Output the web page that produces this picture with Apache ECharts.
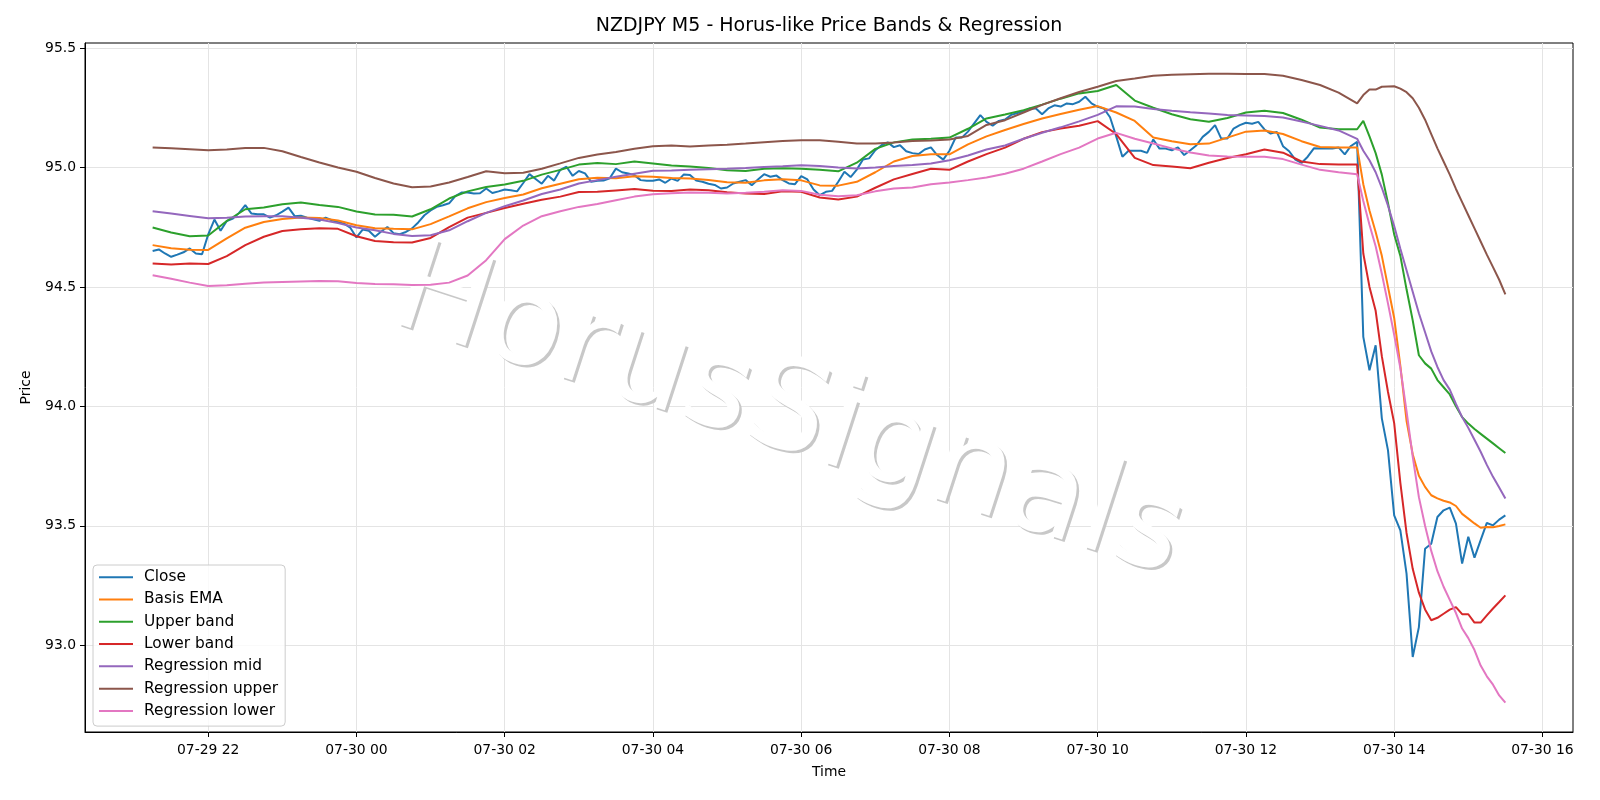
<!DOCTYPE html>
<html>
<head>
<meta charset="utf-8">
<title>NZDJPY M5 - Horus-like Price Bands & Regression</title>
<script src="https://cdn.jsdelivr.net/npm/echarts@6/dist/echarts.min.js"></script>
<style>
  html, body { margin: 0; padding: 0; background: #fff; }
  #chart { width: 1600px; height: 800px; }
</style>
</head>
<body>
<div id="chart"></div>
<script>
// 5 minute bars from 07-29 21:15 to 07-30 15:30
const startTime = new Date(2025, 6, 29, 21, 15).getTime()
const barMs = 5 * 60 * 1000

const closePrices = [
    94.650, 94.657, 94.640, 94.626, 94.635, 94.645, 94.661, 94.640, 94.637, 94.720, 94.782, 94.735,
    94.776, 94.786, 94.810, 94.842, 94.807, 94.804, 94.804, 94.790, 94.800, 94.815, 94.832, 94.796,
    94.798, 94.790, 94.783, 94.777, 94.790, 94.779, 94.772, 94.765, 94.748, 94.707, 94.740, 94.735,
    94.710, 94.732, 94.751, 94.725, 94.721, 94.730, 94.745, 94.770, 94.800, 94.820, 94.835, 94.842,
    94.850, 94.880, 94.895, 94.895, 94.891, 94.892, 94.912, 94.893, 94.900, 94.908, 94.905, 94.900,
    94.935, 94.972, 94.952, 94.932, 94.965, 94.945, 94.990, 95.003, 94.965, 94.985, 94.975, 94.940,
    94.944, 94.945, 94.955, 94.995, 94.980, 94.975, 94.968, 94.947, 94.944, 94.944, 94.950, 94.936,
    94.954, 94.944, 94.971, 94.968, 94.945, 94.940, 94.932, 94.927, 94.912, 94.916, 94.933, 94.940,
    94.947, 94.926, 94.950, 94.972, 94.961, 94.966, 94.947, 94.933, 94.930, 94.964, 94.950, 94.908,
    94.884, 94.898, 94.902, 94.940, 94.982, 94.960, 94.991, 95.033, 95.038, 95.072, 95.093, 95.105,
    95.085, 95.093, 95.068, 95.060, 95.056, 95.075, 95.084, 95.052, 95.033, 95.070, 95.125, 95.125,
    95.150, 95.185, 95.219, 95.191, 95.175, 95.195, 95.201, 95.220, 95.228, 95.235, 95.247, 95.247,
    95.223, 95.247, 95.260, 95.255, 95.268, 95.265, 95.275, 95.296, 95.268, 95.254, 95.247, 95.210,
    95.130, 95.045, 95.070, 95.070, 95.070, 95.061, 95.117, 95.079, 95.079, 95.072, 95.084, 95.052,
    95.072, 95.093, 95.128, 95.149, 95.177, 95.121, 95.121, 95.163, 95.177, 95.187, 95.183, 95.191,
    95.159, 95.142, 95.149, 95.089, 95.068, 95.033, 95.019, 95.045, 95.080, 95.079, 95.079, 95.079,
    95.084, 95.055, 95.090, 95.107, 94.291, 94.151, 94.256, 93.950, 93.816, 93.544, 93.481, 93.300,
    92.951, 93.076, 93.404, 93.425, 93.537, 93.565, 93.576, 93.509, 93.342, 93.454, 93.367, 93.440,
    93.512, 93.502, 93.526, 93.544
]
const closeBars = closePrices.map((v, i) => i)

// the smooth lines were read every 3rd bar up to 13:30, then every bar through the sell-off
const bandBars = []
for (let i = 0; i <= 195; i += 3) bandBars.push(i)
for (let i = 196; i <= 219; i++) bandBars.push(i)

const basisEma = [
    94.675, 94.662, 94.656, 94.655, 94.703, 94.748, 94.772, 94.784, 94.791, 94.789, 94.778, 94.758,
    94.746, 94.743, 94.741, 94.763, 94.795, 94.829, 94.855, 94.872, 94.887, 94.913, 94.932, 94.951,
    94.957, 94.955, 94.963, 94.961, 94.956, 94.954, 94.948, 94.938, 94.936, 94.946, 94.951, 94.946,
    94.925, 94.924, 94.940, 94.980, 95.025, 95.048, 95.055, 95.055, 95.097, 95.130, 95.157, 95.182,
    95.205, 95.224, 95.242, 95.257, 95.230, 95.195, 95.125, 95.110, 95.097, 95.100, 95.125, 95.150,
    95.155, 95.140, 95.110, 95.086, 95.084, 95.084,
    94.93, 94.82, 94.73, 94.63, 94.50, 94.37, 94.17, 93.94, 93.80, 93.71, 93.663, 93.628,
    93.615, 93.605, 93.598, 93.583, 93.55, 93.53, 93.51, 93.492, 93.495, 93.494, 93.499, 93.506
]
const upperBand = [
    94.749, 94.728, 94.712, 94.715, 94.776, 94.825, 94.832, 94.846, 94.853, 94.843, 94.835, 94.816,
    94.803, 94.802, 94.795, 94.825, 94.870, 94.900, 94.918, 94.929, 94.944, 94.970, 94.990, 95.012,
    95.019, 95.014, 95.025, 95.017, 95.008, 95.004, 94.998, 94.988, 94.985, 94.995, 94.997, 94.995,
    94.990, 94.984, 95.020, 95.078, 95.105, 95.117, 95.120, 95.125, 95.162, 95.205, 95.222, 95.240,
    95.263, 95.288, 95.310, 95.320, 95.345, 95.280, 95.250, 95.223, 95.202, 95.191, 95.207, 95.230,
    95.237, 95.228, 95.200, 95.167, 95.160, 95.160,
    95.195, 95.13, 95.06, 94.97, 94.85, 94.72, 94.63, 94.49, 94.36, 94.214, 94.18, 94.158,
    94.11, 94.08, 94.05, 94.00, 93.955, 93.928, 93.905, 93.885, 93.865, 93.845, 93.825, 93.805
]
const lowerBand = [
    94.598, 94.594, 94.598, 94.596, 94.629, 94.675, 94.710, 94.734, 94.741, 94.746, 94.743, 94.712,
    94.692, 94.687, 94.686, 94.705, 94.750, 94.790, 94.810, 94.830, 94.848, 94.865, 94.878, 94.897,
    94.898, 94.904, 94.910, 94.903, 94.901, 94.908, 94.905, 94.896, 94.891, 94.889, 94.900, 94.898,
    94.874, 94.866, 94.878, 94.915, 94.950, 94.973, 94.995, 94.990, 95.025, 95.056, 95.083, 95.120,
    95.148, 95.163, 95.175, 95.194, 95.140, 95.040, 95.010, 95.004, 94.997, 95.020, 95.040, 95.055,
    95.075, 95.062, 95.025, 95.014, 95.012, 95.012,
    94.64, 94.50, 94.40, 94.21, 94.06, 93.93, 93.68, 93.47, 93.32, 93.22, 93.15, 93.105,
    93.115, 93.132, 93.149, 93.16, 93.13, 93.13, 93.095, 93.095, 93.125, 93.154, 93.181, 93.209
]
const regMid = [
    94.817, 94.807, 94.797, 94.787, 94.790, 94.795, 94.796, 94.796, 94.790, 94.782, 94.767, 94.749,
    94.737, 94.722, 94.713, 94.716, 94.737, 94.775, 94.810, 94.838, 94.862, 94.889, 94.908, 94.933,
    94.947, 94.961, 94.974, 94.986, 94.987, 94.990, 94.993, 94.995, 94.998, 95.002, 95.005, 95.009,
    95.006, 95.000, 94.996, 95.000, 95.006, 95.010, 95.017, 95.030, 95.050, 95.075, 95.092, 95.120,
    95.145, 95.168, 95.193, 95.220, 95.256, 95.255, 95.245, 95.237, 95.231, 95.226, 95.220, 95.218,
    95.215, 95.209, 95.192, 95.174, 95.155, 95.120,
    95.07, 95.03, 94.98, 94.915, 94.84, 94.755, 94.66, 94.57, 94.48, 94.39, 94.31, 94.23,
    94.165, 94.11, 94.07, 94.01, 93.955, 93.91, 93.86, 93.81, 93.755, 93.705, 93.66, 93.614
]
const regUpper = [
    95.084, 95.080, 95.076, 95.072, 95.075, 95.081, 95.082, 95.068, 95.044, 95.021, 95.000, 94.982,
    94.956, 94.933, 94.917, 94.920, 94.937, 94.960, 94.984, 94.976, 94.978, 94.995, 95.017, 95.040,
    95.054, 95.065, 95.078, 95.089, 95.092, 95.088, 95.092, 95.095, 95.100, 95.106, 95.111, 95.114,
    95.114, 95.108, 95.100, 95.100, 95.105, 95.111, 95.113, 95.117, 95.132, 95.178, 95.198, 95.230,
    95.262, 95.290, 95.316, 95.338, 95.362, 95.372, 95.384, 95.388, 95.390, 95.392, 95.392, 95.391,
    95.391, 95.384, 95.366, 95.345, 95.313, 95.268,
    95.303, 95.326, 95.326, 95.338, 95.339, 95.340, 95.330, 95.315, 95.290, 95.250, 95.200, 95.140,
    95.080, 95.025, 94.970, 94.910, 94.855, 94.800, 94.745, 94.690, 94.635, 94.583, 94.530, 94.469
]
const regLower = [
    94.549, 94.534, 94.518, 94.504, 94.507, 94.513, 94.518, 94.521, 94.523, 94.525, 94.524, 94.516,
    94.512, 94.511, 94.508, 94.509, 94.518, 94.548, 94.612, 94.700, 94.757, 94.796, 94.817, 94.835,
    94.847, 94.863, 94.878, 94.888, 94.892, 94.895, 94.894, 94.891, 94.894, 94.898, 94.905, 94.902,
    94.886, 94.880, 94.884, 94.900, 94.912, 94.916, 94.930, 94.937, 94.947, 94.958, 94.974, 94.995,
    95.025, 95.056, 95.083, 95.121, 95.145, 95.120, 95.100, 95.080, 95.063, 95.050, 95.046, 95.045,
    95.045, 95.035, 95.012, 94.990, 94.980, 94.972,
    94.86, 94.76, 94.67, 94.555, 94.43, 94.30, 94.16, 93.98, 93.79, 93.62, 93.50, 93.395,
    93.31, 93.245, 93.19, 93.135, 93.07, 93.03, 92.98, 92.915, 92.87, 92.835, 92.79, 92.76
]

const yTicks = [93.0, 93.5, 94.0, 94.5, 95.0, 95.5]
const xTicks = ['07-29 22', '07-30 00', '07-30 02', '07-30 04', '07-30 06',
    '07-30 08', '07-30 10', '07-30 12', '07-30 14', '07-30 16']

const pad = n => String(n).padStart(2, '0')
const parseTick = s => {
    const [md, h] = s.split(' ')
    const [m, d] = md.split('-')
    return new Date(2025, +m - 1, +d, +h).getTime()
}
const toPoints = (bars, values) => values.map((v, k) => [startTime + bars[k] * barMs, v])

const lines = [
    ['Close', '#1f77b4', closeBars, closePrices],
    ['Basis EMA', '#ff7f0e', bandBars, basisEma],
    ['Upper band', '#2ca02c', bandBars, upperBand],
    ['Lower band', '#d62728', bandBars, lowerBand],
    ['Regression mid', '#9467bd', bandBars, regMid],
    ['Regression upper', '#8c564b', bandBars, regUpper],
    ['Regression lower', '#e377c2', bandBars, regLower]
]

// matplotlib style 5% margins around the data
const firstT = startTime
const lastT = startTime + 219 * barMs
const xPad = (lastT - firstT) * 0.05

let chart = echarts.init(document.getElementById('chart'))

// watermark: white text over a soft grey drop shadow
const markAngle = -18 * Math.PI / 180
const markFont = '126px "DejaVu Sans"'

let option = {
    animation: false,
    backgroundColor: '#fff',
    textStyle: { fontFamily: 'DejaVu Sans' },
    title: {
        text: 'NZDJPY M5 - Horus-like Price Bands & Regression',
        left: 829,
        top: 17,
        padding: 0,
        textAlign: 'center',
        textStyle: { fontSize: 19, fontWeight: 'normal', color: '#000', fontFamily: 'DejaVu Sans' }
    },
    grid: {
        left: 85, right: 27, top: 43, bottom: 68,
        show: true, borderColor: '#000', borderWidth: 1,
        outerBoundsMode: 'none'
    },
    legend: {
        orient: 'vertical',
        left: 93,
        top: 565,
        padding: [4, 7, 7, 6],
        itemGap: 6,
        itemWidth: 34,
        itemHeight: 2,
        icon: 'rect',
        backgroundColor: 'rgba(255,255,255,0.8)',
        borderColor: '#cccccc',
        borderWidth: 1,
        borderRadius: 4,
        textStyle: { fontSize: 15.4, color: '#000', lineHeight: 16.3, padding: [0, 0, 0, 6], fontFamily: 'DejaVu Sans' },
        data: lines.map(l => l[0])
    },
    xAxis: {
        type: 'value',
        min: firstT - xPad,
        max: lastT + xPad,
        name: 'Time',
        nameLocation: 'middle',
        nameGap: 33,
        nameTextStyle: { fontSize: 13.9, color: '#000' },
        axisLine: { show: true, lineStyle: { color: '#000', width: 1 } },
        axisTick: { show: true, length: 5, lineStyle: { color: '#000' }, customValues: xTicks.map(parseTick) },
        axisLabel: {
            margin: 11,
            fontSize: 13.9,
            color: '#000',
            customValues: xTicks.map(parseTick),
            formatter: v => {
                const d = new Date(v)
                return pad(d.getMonth() + 1) + '-' + pad(d.getDate()) + ' ' + pad(d.getHours())
            }
        },
        splitLine: { show: true, lineStyle: { color: '#e4e4e4', width: 1 } }
    },
    yAxis: {
        type: 'value',
        min: 92.637,
        max: 95.521,
        name: 'Price',
        nameLocation: 'middle',
        nameGap: 52,
        nameTextStyle: { fontSize: 13.9, color: '#000' },
        axisLine: { show: true, lineStyle: { color: '#000', width: 1 } },
        axisTick: { show: true, length: 5, lineStyle: { color: '#000' }, customValues: yTicks },
        axisLabel: {
            margin: 9,
            fontSize: 13.9,
            color: '#000',
            customValues: yTicks,
            formatter: v => v.toFixed(1)
        },
        splitLine: { show: true, lineStyle: { color: '#e4e4e4', width: 1 } }
    },
    graphic: [
        {
            type: 'text', x: 790.5, y: 418.5, z: 1,
            rotation: markAngle,
            style: {
                text: 'HorusSignals', font: markFont, fill: '#c8c8c8',
                textAlign: 'center', textVerticalAlign: 'middle'
            }
        },
        {
            type: 'text', x: 788, y: 416, z: 1,
            rotation: markAngle,
            style: {
                text: 'HorusSignals', font: markFont, fill: '#ffffff',
                textAlign: 'center', textVerticalAlign: 'middle'
            }
        }
    ],
    series: lines.map(([name, color, bars, values]) => ({
        name,
        type: 'line',
        data: toPoints(bars, values),
        showSymbol: false,
        symbol: 'none',
        color,
        lineStyle: { color, width: 2 },
        emphasis: { disabled: true },
        z: 3
    }))
}

chart.setOption(option)
</script>
</body>
</html>
